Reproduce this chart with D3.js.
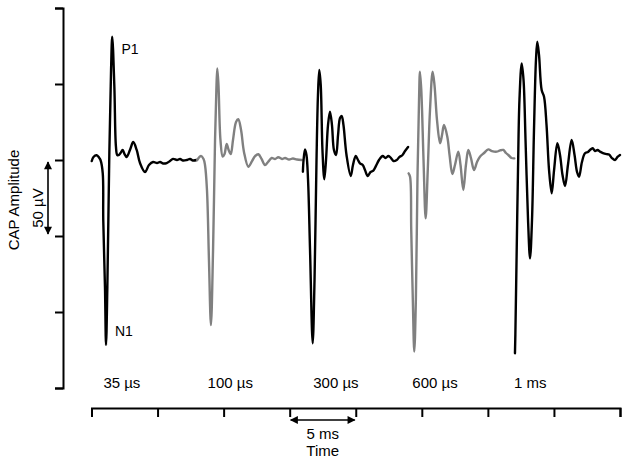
<!DOCTYPE html>
<html>
<head>
<meta charset="utf-8">
<script src="https://cdn.jsdelivr.net/npm/d3@7"></script>
<style>
  body { margin: 0; background: #fff; }
  svg text { font-family: "Liberation Sans", Arial, sans-serif; fill: #000; }
</style>
</head>
<body>
<svg id="chart" width="629" height="465"></svg>
<script>
// stimulus durations, one trace per stimulus, each trace is 8 ms long
const stimLabels = ['35 µs', '100 µs', '300 µs', '600 µs', '1 ms'];
const traceStart = [0, 8, 16, 24, 32]; // ms
const yTicks = [-150, -100, -50, 0, 50, 100]; // µV
const xTicks = [0, 5, 10, 15, 20, 25, 30, 35, 40]; // ms

// [time within trace (ms), amplitude (µV)]
const trace35 = [
  [0.02, -0.7], [0.15, 2.0], [0.39, 3.1], [0.57, 1.6], [0.68, 0], [0.85, -8.6],
  [0.89, -39.5], [1.02, -83.6], [1.10, -121.7], [1.20, -83.6], [1.35, 4.6],
  [1.48, 59.2], [1.57, 81.1], [1.73, 48.2], [1.85, 8.8], [1.95, 3.3], [2.08, 3.3],
  [2.20, 4.6], [2.36, 6.6], [2.50, 3.9], [2.66, 2.0], [2.91, 6.6], [3.16, 11.8],
  [3.42, 6.6], [3.67, -2.0], [4.05, -7.9], [4.35, -3.3], [4.66, -1.3], [4.96, -2.0],
  [5.19, -1.3], [5.43, -2.3], [5.69, -2.0], [5.94, -0.7], [6.17, 0.7], [6.47, 0],
  [6.70, 0.7], [6.93, -0.3], [7.21, 0], [7.46, 0.7], [7.68, -0.3], [7.96, 0]
];
const trace100 = [
  [0.00, 0], [0.29, 2.6], [0.48, 0.7], [0.59, -3.3], [0.74, -19.7], [0.89, -65.8],
  [1.04, -108.6], [1.20, -59.2], [1.35, 13.2], [1.45, 46.1], [1.52, 60.3],
  [1.61, 49.3], [1.76, 13.2], [1.93, 2.2], [2.07, 3.9], [2.23, 10.5], [2.38, 6.6],
  [2.54, 3.9], [2.71, 13.2], [2.94, 25.0], [3.11, 26.8], [3.32, 19.7], [3.54, 5.3],
  [3.87, -4.4], [4.15, -0.7], [4.38, 2.6], [4.63, 3.8], [4.87, 0.7], [5.13, -3.3],
  [5.36, -1.3], [5.64, 1.3], [5.89, 0.7], [6.14, 1.8], [6.42, 0.7], [6.65, 1.3],
  [6.95, 0.3], [7.25, 1.0], [7.55, 0.3], [7.91, 0]
];
const trace300 = [
  [0.00, -7.7], [0.05, 0], [0.16, 7.0], [0.27, 3.3], [0.39, -13.2], [0.54, -59.2],
  [0.74, -120.6], [0.88, -78.9], [1.03, 0], [1.14, 42.8], [1.24, 59.2], [1.35, 49.3],
  [1.48, 6.6], [1.62, -12.7], [1.75, 0], [1.90, 23.0], [2.05, 31.8], [2.20, 23.0],
  [2.35, 6.6], [2.51, 3.3], [2.66, 16.4], [2.81, 27.6], [2.94, 28.9], [3.07, 23.0],
  [3.30, 3.3], [3.62, -10.5], [3.79, -3.3], [4.00, 2.6], [4.17, 0], [4.32, -2.2],
  [4.53, -3.3], [4.70, -6.6], [4.91, -10.5], [5.12, -7.9], [5.33, -7.0], [5.53, -3.9],
  [5.76, 0], [6.04, 2.6], [6.25, 1.3], [6.47, 2.6], [6.67, 1.3], [6.86, -0.7],
  [7.10, 0], [7.31, 2.0], [7.54, 3.3], [7.73, 5.9], [7.96, 8.6]
];
const trace600 = [
  [0.00, -8.8], [0.11, -11.0], [0.20, -46.1], [0.32, -92.1], [0.43, -126.1],
  [0.55, -92.1], [0.67, -13.2], [0.79, 39.5], [0.86, 58.1], [0.96, 46.1], [1.13, 0],
  [1.29, -38.4], [1.45, -6.6], [1.62, 32.9], [1.82, 58.1], [1.96, 49.3], [2.15, 26.3],
  [2.38, 11.0], [2.53, 16.4], [2.68, 23.0], [2.93, 15.3], [3.10, 3.3], [3.31, -9.2],
  [3.51, -3.3], [3.76, 5.5], [3.93, -3.3], [4.14, -19.7], [4.34, -3.3], [4.52, 6.6],
  [4.72, 1.3], [4.95, -6.6], [5.18, -1.3], [5.40, 2.2], [5.71, 4.6], [6.03, 7.0],
  [6.31, 5.9], [6.67, 5.5], [6.92, 6.3], [7.17, 6.6], [7.37, 4.6], [7.55, 3.3],
  [7.79, 1.3], [8.00, 1.1]
];
const trace1ms = [
  [0.05, -127.2], [0.08, -115.1], [0.17, -65.8], [0.28, -6.6], [0.39, 39.5],
  [0.56, 63.6], [0.70, 52.6], [0.85, 13.2], [1.04, -39.5], [1.19, -64.7], [1.34, -39.5],
  [1.49, 19.7], [1.64, 65.8], [1.74, 77.8], [1.87, 69.1], [2.07, 46.1], [2.25, 41.6],
  [2.44, 23.0], [2.63, -6.6], [2.83, -21.9], [3.01, -6.6], [3.26, 11.0], [3.46, 3.3],
  [3.65, -9.9], [3.84, -17.1], [4.06, -3.3], [4.34, 13.2], [4.56, 3.3], [4.75, -7.9],
  [4.90, -11.0], [5.12, -1.3], [5.35, 4.4], [5.58, 5.3], [5.73, 6.6], [5.93, 7.7],
  [6.11, 5.9], [6.30, 6.6], [6.49, 5.5], [6.71, 4.6], [6.99, 3.9], [7.17, 3.6],
  [7.39, 1.3], [7.62, 0], [7.81, 2.0], [8.00, 3.3]
];
const traces = [trace35, trace100, trace300, trace600, trace1ms];

const svg = d3.select('#chart');

const x = d3.scaleLinear().domain([0, 40]).range([91.5, 620]);
const y = d3.scaleLinear().domain([-150, 100]).range([388, 8]);

const traceColors = ['#000', '#808080', '#000', '#808080', '#000'];

// arrow markers
const defs = svg.append('defs');
defs.append('marker')
    .attr('id', 'arrow')
    .attr('viewBox', '0 0 10 10')
    .attr('refX', 9).attr('refY', 5)
    .attr('markerWidth', 10).attr('markerHeight', 8)
    .attr('markerUnits', 'userSpaceOnUse')
    .attr('orient', 'auto-start-reverse')
    .append('path')
    .attr('d', 'M0,0L10,5L0,10Z')
    .attr('fill', '#000');

// y axis
const yAxis = svg.append('g')
    .attr('transform', 'translate(63,0)')
    .call(d3.axisLeft(y).tickValues(yTicks).tickSize(8).tickSizeOuter(8).tickFormat(''));

// time axis
const xAxis = svg.append('g')
    .attr('transform', 'translate(0,408)')
    .call(d3.axisBottom(x).tickValues(xTicks).tickSize(9).tickSizeOuter(9).tickFormat(''));

svg.selectAll('.domain, .tick line')
    .attr('stroke', '#000')
    .attr('stroke-width', 2);

// traces
const line = d3.line()
    .x(d => d[0])
    .y(d => y(d[1]))
    .curve(d3.curveCatmullRom.alpha(0.5));

traces.forEach((tr, i) => {
    const pts = tr.map(p => [x(traceStart[i] + p[0]), p[1]]);
    svg.append('path')
        .attr('d', line(pts))
        .attr('fill', 'none')
        .attr('stroke', traceColors[i])
        .attr('stroke-width', 2.4)
        .attr('stroke-linejoin', 'round')
        .attr('stroke-linecap', 'round');
});

// stimulus labels under each trace
const labelCenter = [2.3, 10.5, 18.5, 26.0, 33.2];
stimLabels.forEach((s, i) => {
    svg.append('text')
        .attr('x', x(labelCenter[i]))
        .attr('y', 388)
        .attr('text-anchor', 'middle')
        .style('font-size', '15px')
        .text(s);
});

// peak labels
svg.append('text').attr('x', 121.5).attr('y', 54).style('font-size', '14px').text('P1');
svg.append('text').attr('x', 115).attr('y', 336).style('font-size', '14px').text('N1');

// amplitude scale bar (50 µV)
svg.append('line')
    .attr('x1', 48).attr('x2', 48)
    .attr('y1', y(0) + 2).attr('y2', y(-50) - 2)
    .attr('stroke', '#000').attr('stroke-width', 1.6)
    .attr('marker-start', 'url(#arrow)')
    .attr('marker-end', 'url(#arrow)');

svg.append('text')
    .attr('transform', 'translate(19,200) rotate(-90)')
    .attr('text-anchor', 'middle')
    .style('font-size', '15px')
    .text('CAP Amplitude');

svg.append('text')
    .attr('transform', 'translate(42.5,208) rotate(-90)')
    .attr('text-anchor', 'middle')
    .style('font-size', '15px')
    .text('50 µV');

// time scale bar (5 ms)
svg.append('line')
    .attr('x1', x(15) + 1).attr('x2', x(20) - 1)
    .attr('y1', 420).attr('y2', 420)
    .attr('stroke', '#000').attr('stroke-width', 1.6)
    .attr('marker-start', 'url(#arrow)')
    .attr('marker-end', 'url(#arrow)');

svg.append('text')
    .attr('x', x(17.5)).attr('y', 439)
    .attr('text-anchor', 'middle')
    .style('font-size', '15px')
    .text('5 ms');

svg.append('text')
    .attr('x', x(17.5)).attr('y', 455.5)
    .attr('text-anchor', 'middle')
    .style('font-size', '15px')
    .text('Time');
</script>
</body>
</html>
